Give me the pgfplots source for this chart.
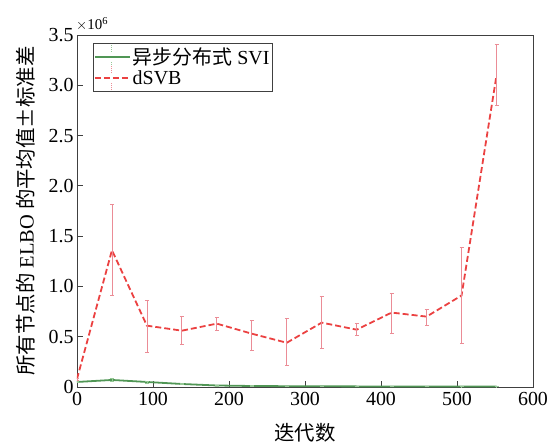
\documentclass[border=0pt]{standalone}
\usepackage{fontspec}
\setmainfont{Liberation Serif}
\newfontfamily\cjk{Noto Sans CJK SC}
\usepackage{pgfplots}
\pgfplotsset{compat=1.18}
\definecolor{cgreen}{RGB}{80,150,85}
\definecolor{cgreenerr}{RGB}{150,200,150}
\definecolor{cred}{RGB}{235,65,65}
\definecolor{credErr}{RGB}{235,140,150}
\begin{document}
\begin{tikzpicture}
\useasboundingbox (-77bp,-55bp) rectangle (481bp,387bp);
\begin{axis}[
  at={(0bp,0bp)}, anchor=south west,
  scale only axis,
  width=456bp, height=352bp,
  xmin=0, xmax=600, ymin=0, ymax=3.5,
  xtick={0,100,...,600},
  ytick={0,0.5,1,1.5,2,2.5,3,3.5},
  yticklabels={0,0.5,1.0,1.5,2.0,2.5,3.0,3.5},
  scaled y ticks=false,
  tick align=inside,
  xtick pos=left, ytick pos=left,
  major tick length=6bp,
  /pgf/number format/assume math mode=true,
  ticklabel style={font=\fontsize{20}{22}\selectfont},
  xticklabel style={yshift=-2bp},
  yticklabel style={xshift=0bp},
  label style={font=\fontsize{20.5}{22}\selectfont},
  xlabel={{\cjk 迭代数}},
  xlabel style={at={(axis description cs:0.5,-0.156)}, anchor=south, inner sep=0pt},
  ylabel={{\cjk 所有节点的} ELBO {\cjk 的平均值±标准差}},
  ylabel style={at={(axis description cs:-0.112,0.5)}, anchor=center, inner sep=0pt},
  axis line style={black!75, line width=1pt},
  every tick/.style={black!75, line width=1pt},
  legend style={at={(0.034,0.977)}, anchor=north west, draw=black!75, line width=0.9pt, font=\fontsize{20}{22}\selectfont, inner sep=1pt, row sep=-4pt, nodes={inner sep=2pt}},
  legend cell align=left,
]
\addplot[cgreen, line width=1.8pt,
  legend image code/.code={
  \draw[cgreen, line width=1.8pt] (0bp,0bp) -- (35bp,0bp);
  \draw[cgreenerr, line width=1.2pt, densely dotted] (17bp,-12bp) -- (17bp,-5bp) (17bp,5bp) -- (17bp,12bp);},
  error bars/.cd, y dir=both, y explicit, error bar style={cgreenerr, line width=0.7pt}, error mark options={cgreenerr, rotate=90, mark size=2pt, line width=0.7pt}]
 coordinates {
 (0,0.05) +- (0,0.008)
 (46,0.07) +- (0,0.012)
 (92,0.05) +- (0,0.01)
 (138,0.03) +- (0,0.006)
 (184,0.015) +- (0,0.004)
 (230,0.01) +- (0,0.003)
 (276,0.008) +- (0,0.003)
 (322,0.007) +- (0,0.002)
 (368,0.006) +- (0,0.002)
 (414,0.005) +- (0,0.002)
 (460,0.005) +- (0,0.002)
 (506,0.004) +- (0,0.002)
 (552,0.004) +- (0,0.002)
 };
\addlegendentry{{\cjk 异步分布式} SVI}
\addplot[cred, line width=1.8pt, dash pattern=on 6bp off 3bp,
  legend image code/.code={
  \draw[cred, line width=1.8pt, dash pattern=on 6bp off 3bp] (0bp,0bp) -- (35bp,0bp);
  \draw[credErr, line width=1.2pt, densely dotted] (17bp,-12bp) -- (17bp,-5bp) (17bp,5bp) -- (17bp,12bp);},
  error bars/.cd, y dir=both, y explicit, error bar style={credErr, line width=0.8pt, solid}, error mark options={credErr, rotate=90, mark size=2pt, solid, line width=0.8pt}]
 coordinates {
 (0,0.08) += (0,0.01) -= (0,0.01)
 (46,1.36) += (0,0.46) -= (0,0.45)
 (92,0.61) += (0,0.25) -= (0,0.27)
 (138,0.56) += (0,0.14) -= (0,0.14)
 (184,0.63) += (0,0.06) -= (0,0.07)
 (230,0.53) += (0,0.13) -= (0,0.17)
 (276,0.44) += (0,0.24) -= (0,0.23)
 (322,0.64) += (0,0.26) -= (0,0.26)
 (368,0.57) += (0,0.06) -= (0,0.06)
 (414,0.74) += (0,0.19) -= (0,0.21)
 (460,0.70) += (0,0.07) -= (0,0.09)
 (506,0.91) += (0,0.48) -= (0,0.48)
 (552,3.10) += (0,0.31) -= (0,0.30)
 };
\addlegendentry{dSVB}
\end{axis}
\node[anchor=south west, font=\fontsize{15}{17}\selectfont, inner sep=1pt] at (-2bp,355bp) {$\times$10\textsuperscript{6}};
\end{tikzpicture}
\end{document}
